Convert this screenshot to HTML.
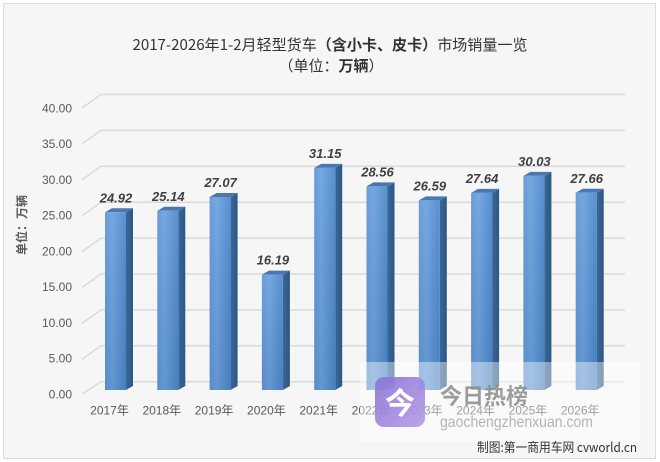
<!DOCTYPE html>
<html>
<head>
<meta charset="utf-8">
<style>
html,body{margin:0;padding:0;background:#ffffff;}
body{width:660px;height:462px;overflow:hidden;}
svg{display:block;}
text{font-family:"Liberation Sans","Noto Sans CJK SC",sans-serif;}
.cjk{font-family:"Noto Sans CJK SC","Liberation Sans",sans-serif;}
</style>
</head>
<body>
<svg width="660" height="462" viewBox="0 0 660 462" xmlns="http://www.w3.org/2000/svg">
<defs>
<linearGradient id="front" x1="0" y1="0" x2="1" y2="0">
<stop offset="0" stop-color="#5d95d6"/>
<stop offset="0.35" stop-color="#6aa0de"/>
<stop offset="1" stop-color="#4a86ca"/>
</linearGradient>
<linearGradient id="frontv" x1="0" y1="0" x2="0" y2="1">
<stop offset="0" stop-color="#ffffff" stop-opacity="0.08"/>
<stop offset="1" stop-color="#000000" stop-opacity="0.06"/>
</linearGradient>
<linearGradient id="side" x1="0" y1="0" x2="1" y2="0">
<stop offset="0" stop-color="#3a6898"/>
<stop offset="1" stop-color="#2d5684"/>
</linearGradient>
<linearGradient id="icon" x1="0" y1="0" x2="1" y2="1">
<stop offset="0" stop-color="#8a72d8"/>
<stop offset="1" stop-color="#b39be6"/>
</linearGradient>
</defs>

<!-- panel -->
<rect x="3.5" y="3.5" width="652" height="455" fill="#f6f6f6" stroke="#dcdcdc" stroke-width="1"/>

<!-- title -->
<text class="cjk" x="330" y="50" text-anchor="middle" font-size="15" fill="#333333" textLength="395" lengthAdjust="spacingAndGlyphs">2017-2026年1-2月轻型货车<tspan font-weight="bold">（含小卡、皮卡）</tspan>市场销量一览</text>
<text class="cjk" x="331" y="71" text-anchor="middle" font-size="15" fill="#333333">（单位：<tspan font-weight="bold">万辆</tspan>）</text>

<!-- gridlines -->
<g stroke="#dadada" stroke-width="1.5" fill="none">
<polyline points="82,108 101,94.5 625,94.5"/>
<polyline points="82,143.9 101,130.4 625,130.4"/>
<polyline points="82,179.8 101,166.3 625,166.3"/>
<polyline points="82,215.7 101,202.2 625,202.2"/>
<polyline points="82,251.6 101,238.1 625,238.1"/>
<polyline points="82,287.5 101,274 625,274"/>
<polyline points="82,323.4 101,309.9 625,309.9"/>
<polyline points="82,359.3 101,345.8 625,345.8"/>
<polyline points="82,394 101,381.7 625,381.7"/>
</g>

<!-- y axis labels -->
<g font-size="12" fill="#595959" text-anchor="end">
<text x="72" y="112.3">40.00</text>
<text x="72" y="148.1">35.00</text>
<text x="72" y="183.8">30.00</text>
<text x="72" y="219.6">25.00</text>
<text x="72" y="255.3">20.00</text>
<text x="72" y="291.1">15.00</text>
<text x="72" y="326.8">10.00</text>
<text x="72" y="362.6">5.00</text>
<text x="72" y="398.3">0.00</text>
</g>

<!-- y axis title -->
<text class="cjk" x="0" y="0" font-size="12" font-weight="bold" fill="#595959" text-anchor="middle" transform="translate(26,225) rotate(-90)">单位：万辆</text>

<!-- bars -->
<g id="bars">
<!-- bar template: x0, top = 390 - v*7.13 -->
<!-- 1: 24.92 top=212.3 -->
<polygon points="126,212.3 133,208.3 133,386 126,390" fill="url(#side)"/>
<polygon points="105,212.3 126,212.3 133,208.3 112,208.3" fill="#4a78ae"/>
<rect x="105" y="212.3" width="21" height="177.7" fill="url(#front)"/>
<rect x="105" y="212.3" width="21" height="177.7" fill="url(#frontv)"/>
<!-- 2: 25.14 top=210.8 x0=157.3 -->
<polygon points="178.3,210.8 185.3,206.8 185.3,386 178.3,390" fill="url(#side)"/>
<polygon points="157.3,210.8 178.3,210.8 185.3,206.8 164.3,206.8" fill="#4a78ae"/>
<rect x="157.3" y="210.8" width="21" height="179.2" fill="url(#front)"/>
<rect x="157.3" y="210.8" width="21" height="179.2" fill="url(#frontv)"/>
<!-- 3: 27.07 top=197 x0=209.6 -->
<polygon points="230.6,197 237.6,193 237.6,386 230.6,390" fill="url(#side)"/>
<polygon points="209.6,197 230.6,197 237.6,193 216.6,193" fill="#4a78ae"/>
<rect x="209.6" y="197" width="21" height="193" fill="url(#front)"/>
<rect x="209.6" y="197" width="21" height="193" fill="url(#frontv)"/>
<!-- 4: 16.19 top=274.6 x0=261.9 -->
<polygon points="282.9,274.6 289.9,270.6 289.9,386 282.9,390" fill="url(#side)"/>
<polygon points="261.9,274.6 282.9,274.6 289.9,270.6 268.9,270.6" fill="#4a78ae"/>
<rect x="261.9" y="274.6" width="21" height="115.4" fill="url(#front)"/>
<rect x="261.9" y="274.6" width="21" height="115.4" fill="url(#frontv)"/>
<!-- 5: 31.15 top=167.9 x0=314.2 -->
<polygon points="335.2,167.9 342.2,163.9 342.2,386 335.2,390" fill="url(#side)"/>
<polygon points="314.2,167.9 335.2,167.9 342.2,163.9 321.2,163.9" fill="#4a78ae"/>
<rect x="314.2" y="167.9" width="21" height="222.1" fill="url(#front)"/>
<rect x="314.2" y="167.9" width="21" height="222.1" fill="url(#frontv)"/>
<!-- 6: 28.56 top=186.4 x0=366.5 -->
<polygon points="387.5,186.4 394.5,182.4 394.5,386 387.5,390" fill="url(#side)"/>
<polygon points="366.5,186.4 387.5,186.4 394.5,182.4 373.5,182.4" fill="#4a78ae"/>
<rect x="366.5" y="186.4" width="21" height="203.6" fill="url(#front)"/>
<rect x="366.5" y="186.4" width="21" height="203.6" fill="url(#frontv)"/>
<!-- 7: 26.59 top=200.4 x0=418.8 -->
<polygon points="439.8,200.4 446.8,196.4 446.8,386 439.8,390" fill="url(#side)"/>
<polygon points="418.8,200.4 439.8,200.4 446.8,196.4 425.8,196.4" fill="#4a78ae"/>
<rect x="418.8" y="200.4" width="21" height="189.6" fill="url(#front)"/>
<rect x="418.8" y="200.4" width="21" height="189.6" fill="url(#frontv)"/>
<!-- 8: 27.64 top=192.9 x0=471.1 -->
<polygon points="492.1,192.9 499.1,188.9 499.1,386 492.1,390" fill="url(#side)"/>
<polygon points="471.1,192.9 492.1,192.9 499.1,188.9 478.1,188.9" fill="#4a78ae"/>
<rect x="471.1" y="192.9" width="21" height="197.1" fill="url(#front)"/>
<rect x="471.1" y="192.9" width="21" height="197.1" fill="url(#frontv)"/>
<!-- 9: 30.03 top=175.9 x0=523.4 -->
<polygon points="544.4,175.9 551.4,171.9 551.4,386 544.4,390" fill="url(#side)"/>
<polygon points="523.4,175.9 544.4,175.9 551.4,171.9 530.4,171.9" fill="#4a78ae"/>
<rect x="523.4" y="175.9" width="21" height="214.1" fill="url(#front)"/>
<rect x="523.4" y="175.9" width="21" height="214.1" fill="url(#frontv)"/>
<!-- 10: 27.66 top=192.8 x0=575.7 -->
<polygon points="596.7,192.8 603.7,188.8 603.7,386 596.7,390" fill="url(#side)"/>
<polygon points="575.7,192.8 596.7,192.8 603.7,188.8 582.7,188.8" fill="#4a78ae"/>
<rect x="575.7" y="192.8" width="21" height="197.2" fill="url(#front)"/>
<rect x="575.7" y="192.8" width="21" height="197.2" fill="url(#frontv)"/>
</g>

<!-- value labels -->
<g font-size="13" font-weight="bold" font-style="italic" fill="#404040" text-anchor="middle">
<text x="116" y="202.3">24.92</text>
<text x="168.3" y="200.8">25.14</text>
<text x="220.6" y="187">27.07</text>
<text x="272.9" y="264.6">16.19</text>
<text x="325.2" y="157.9">31.15</text>
<text x="377.5" y="176.4">28.56</text>
<text x="429.8" y="190.4">26.59</text>
<text x="482.1" y="182.9">27.64</text>
<text x="534.4" y="165.9">30.03</text>
<text x="586.7" y="182.8">27.66</text>
</g>

<!-- x labels -->
<g class="cjk" font-size="12" fill="#595959" text-anchor="middle">
<text x="109.5" y="414.5">2017年</text>
<text x="161.8" y="414.5">2018年</text>
<text x="214.1" y="414.5">2019年</text>
<text x="266.4" y="414.5">2020年</text>
<text x="318.7" y="414.5">2021年</text>
<text x="371" y="414.5">2022年</text>
<text x="423.3" y="414.5">2023年</text>
<text x="475.6" y="414.5">2024年</text>
<text x="527.9" y="414.5">2025年</text>
<text x="580.2" y="414.5">2026年</text>
</g>

<!-- watermark overlay -->
<rect x="360" y="362" width="280" height="80" fill="#ffffff" fill-opacity="0.42"/>
<rect x="375" y="377" width="50" height="50" rx="9" fill="url(#icon)" fill-opacity="0.9"/>
<text class="cjk" x="400" y="414" font-size="30" font-weight="bold" fill="#ffffff" text-anchor="middle">今</text>
<text class="cjk" x="440" y="404" font-size="22" font-weight="bold" fill="#8a8a8a" fill-opacity="0.85" textLength="88" lengthAdjust="spacingAndGlyphs">今日热榜</text>
<text x="440" y="427" font-size="16" fill="#b4b4b4" textLength="153" lengthAdjust="spacingAndGlyphs">gaochengzhenxuan.com</text>

<!-- footer -->
<text class="cjk" x="477" y="452" font-size="13" fill="#333333" textLength="160" lengthAdjust="spacingAndGlyphs">制图:第一商用车网 cvworld.cn</text>
</svg>
</body>
</html>
